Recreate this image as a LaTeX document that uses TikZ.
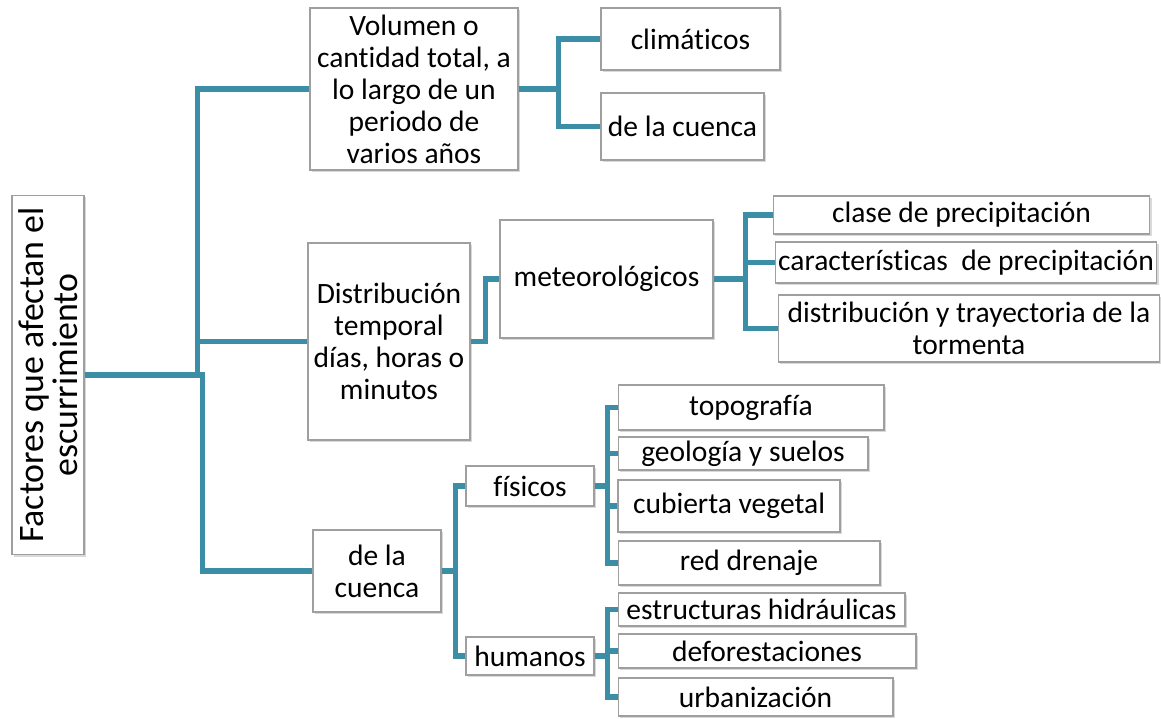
\documentclass[tikz,border=0pt]{standalone}
\usepackage{fontspec}
\setmainfont[Ligatures=CommonOff]{Carlito}
\usepackage{tikz}
\usetikzlibrary{shadows}
\definecolor{linkc}{HTML}{3C8DA6}

\begin{document}
\begin{tikzpicture}[x=0.02cm, y=-0.02cm, font=\fontsize{16.8}{18.2}\selectfont,
    box/.style={draw=gray!75, line width=0.6pt, fill=white, align=center, inner sep=0pt,
      drop shadow={shadow xshift=1.2pt, shadow yshift=-1.2pt, opacity=0.3}},
    link/.style={draw=linkc, line width=3pt}]
      \useasboundingbox (0,0) rectangle (1161,719);

      \node[box, rotate=90, minimum width=7.2cm, minimum height=1.44cm,
            font=\fontsize{20.4}{19}\selectfont]          (R)  at (48,  375)   {Factores que afectan el\\escurrimiento};

      \node[box, minimum width=4.16cm, minimum height=3.24cm] (V)  at (414,  89)   {Volumen o\\cantidad total, a\\lo largo de un\\periodo de\\varios años};
      \node[box, minimum width=3.58cm, minimum height=1.24cm] (CL) at (690.5, 39)  {climáticos};
      \node[box, minimum width=3.26cm, minimum height=1.34cm] (CU) at (682.5, 126.5) {de la cuenca};

      \node[box, minimum width=3.24cm, minimum height=3.94cm] (D)  at (389, 341.5) {Distribución\\temporal\\días, horas o\\minutos};
      \node[box, minimum width=4.26cm, minimum height=2.36cm] (M)  at (606.5, 279) {meteorológicos};
      \node[box, minimum width=7.54cm, minimum height=0.76cm] (P1) at (961.5, 215) {clase de precipitación};
      \node[box, minimum width=7.64cm, minimum height=0.82cm] (P2) at (966, 262.5) {características~ de precipitación};
      \node[box, minimum width=7.64cm, minimum height=1.34cm] (P3) at (969, 328.5) {distribución y trayectoria de la\\tormenta};

      \node[box, minimum width=2.56cm, minimum height=1.64cm] (C)  at (377, 571)   {de la\\cuenca};
      \node[box, minimum width=2.56cm, minimum height=0.80cm] (F)  at (530, 486)   {físicos};
      \node[box, minimum width=2.56cm, minimum height=0.76cm] (H)  at (530, 656)   {humanos};

      \node[box, minimum width=5.32cm, minimum height=0.90cm] (T)  at (751, 407.5) {topografía};
      \node[box, minimum width=5.00cm, minimum height=0.66cm] (G)  at (743, 453.5) {geología y suelos};
      \node[box, minimum width=4.44cm, minimum height=1.04cm] (CV) at (729, 506)   {cubierta vegetal};
      \node[box, minimum width=5.24cm, minimum height=0.88cm] (RD) at (749, 563)   {red drenaje};

      \node[box, minimum width=5.74cm, minimum height=0.66cm] (E)  at (761.5, 609.5) {estructuras hidráulicas};
      \node[box, minimum width=5.96cm, minimum height=0.68cm] (DF) at (767, 651)   {deforestaciones};
      \node[box, minimum width=5.50cm, minimum height=0.76cm] (U)  at (755.5, 697) {urbanización};

      \draw[link] (R.south) -- ++(113,0) |- (V.west);
      \draw[link] (R.south) -- ++(113,0) |- (D.west);
      \draw[link] (R.south) -- ++(118,0) |- (C.west);

      \draw[link] (V.east) -- ++(40,0) |- (CL.west);
      \draw[link] (V.east) -- ++(40,0) |- (CU.west);

      \draw[link] (D.east) -- ++(15,0) |- (M.west);

      \draw[link] (M.east) -- ++(32,0) |- (P1.west);
      \draw[link] (M.east) -- ++(32,0) |- (P2.west);
      \draw[link] (M.east) -- ++(32,0) |- (P3.west);

      \draw[link] (C.east) -- ++(14,0) |- (F.west);
      \draw[link] (C.east) -- ++(14,0) |- (H.west);

      \draw[link] (F.east) -- ++(13,0) |- (T.west);
      \draw[link] (F.east) -- ++(13,0) |- (G.west);
      \draw[link] (F.east) -- ++(13,0) |- (CV.west);
      \draw[link] (F.east) -- ++(13,0) |- (RD.west);

      \draw[link] (H.east) -- ++(13,0) |- (E.west);
      \draw[link] (H.east) -- ++(13,0) |- (DF.west);
      \draw[link] (H.east) -- ++(13,0) |- (U.west);
    \end{tikzpicture}
\end{document}
